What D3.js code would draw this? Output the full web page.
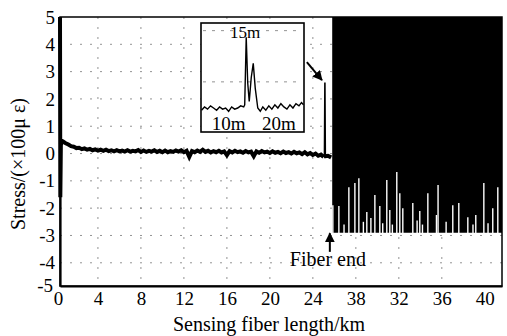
<!DOCTYPE html>
<html><head><meta charset="utf-8">
<script src="https://cdn.jsdelivr.net/npm/d3@7"></script>
<style>
body{margin:0;background:#fff;}
svg{display:block;}
svg text{font-family:"Liberation Serif","Times New Roman",serif;fill:#000;}
</style></head><body>
<svg id="c" width="507" height="336"></svg>
<script>
// ---- data ----
const xTickValues = [0,4,8,12,16,20,24,28,32,36,40];
const xTickLabels = ["0","4","8","12","16","20","24","38","32","36","40"];
const yTickValues = [5,4,3,2,1,0,-1,-2,-3,-4,-5];
const yTickLabels = ["5","4","3","2","1","0","-1","-2","-3","-4","-5"];

// start of trace (km, value)
const traceHeadKm  = [0.47, 0.50, 0.55, 0.62];
const traceHeadVal = [5.0, -1.6, 0.30, 0.48];
// main trace sampled every 0.25 km from 0.75 km
const traceStartKm = 0.75, traceStepKm = 0.25;
const traceVal = [0.44,0.38,0.33,0.27,0.25,0.20,0.21,0.16,0.19,0.14,0.17,0.12,0.15,0.11,0.14,0.10,0.14,0.09,0.12,0.08,
0.12,0.08,0.11,0.07,0.12,0.07,0.10,0.08,0.13,0.06,0.11,0.06,0.10,0.07,0.12,0.06,0.10,0.05,0.11,0.05,
0.09,0.06,0.11,0.07,0.12,0.05,0.10,-0.12,0.09,0.05,0.11,0.06,0.14,0.06,0.10,0.04,0.09,0.05,0.10,0.04,
0.08,-0.06,0.09,0.04,0.10,0.05,0.08,0.03,0.09,0.04,0.07,-0.10,0.08,0.03,0.09,0.04,0.07,0.02,0.08,0.03,
0.06,0.01,0.07,0.02,0.05,0.00,0.06,0.01,0.04,-0.02,0.05,-0.03,0.02,-0.05,0.00,-0.08,-0.04,-0.12];
// end of trace: reflection at the fiber end
const traceTailKm  = [25.0, 25.08, 25.12, 25.16, 25.4, 25.7];
const traceTailVal = [-0.12, -0.10, 2.60, -0.10, -0.08, -0.14];

// noise beyond fiber end
const noiseStartKm = 25.8, noiseEndKm = 41.6, noiseTop = 5, noiseFloor = -2.9;
const slitKm  = [25.86,26.42,27.35,27.91,28.28,29.02,29.40,29.77,30.23,30.88,31.16,31.81,32.09,32.37,33.30,33.95,34.70,35.50,35.65,37.02,37.58,38.42,39.16,39.91,40.74,41.21,26.9,28.7,30.5,31.4,33.7,34.2,36.4,38.9,40.3];
const slitTop = [-1.89,-1.92,-1.23,-1.08,-0.90,-2.14,-2.36,-1.52,-1.92,-0.97,-2.07,-0.68,-1.45,-2.00,-1.81,-2.10,-1.45,-2.25,-1.15,-1.89,-1.81,-2.33,-2.25,-1.08,-2.00,-1.23,-2.6,-2.5,-2.55,-2.6,-2.45,-2.6,-2.5,-2.6,-2.55];

// inset (distance in m, normalised amplitude)
const insetX = [4.6,5.2,5.8,6.4,7.0,7.6,8.2,8.8,9.4,10.0,10.6,11.2,11.8,12.4,13.0,13.2,13.5,13.8,14.1,14.5,14.9,15.3,15.8,16.3,16.8,17.4,18.0,18.6,19.2,19.8,20.4,21.0,21.6,22.2,22.8,23.4,24.0,24.5,24.9];
const insetY = [0.20,0.23,0.21,0.24,0.22,0.20,0.23,0.21,0.22,0.19,0.23,0.21,0.22,0.24,0.23,0.25,0.87,0.45,0.28,0.50,0.63,0.40,0.22,0.19,0.23,0.20,0.24,0.21,0.25,0.22,0.26,0.23,0.21,0.25,0.22,0.26,0.24,0.27,0.25];
const insetTickValues = [10,20];
const insetTickLabels = ["10m","20m"];

// ---- chart ----
const svg = d3.select("#c");
const L=60,R=502,T=17,B=286;
const x = d3.scaleLinear().domain([0.47,41.6]).range([L,R]);
const y = d3.scaleLinear().domain([-4.85,5]).range([B,T]);

// grid
const grid = svg.append("g").attr("stroke","#777").attr("stroke-width",0.8).attr("stroke-dasharray","2,8");
grid.selectAll("line.h").data(yTickValues.filter(v=>v<5&&v>-5)).join("line")
  .attr("x1",L).attr("x2",R).attr("y1",d=>y(d)).attr("y2",d=>y(d));
grid.selectAll("line.v").data(xTickValues.filter(v=>v>0&&v<40)).join("line")
  .attr("y1",T).attr("y2",B).attr("x1",d=>x(d)).attr("x2",d=>x(d));

// trace
const pts = [];
traceHeadKm.forEach((k,i)=>pts.push([k,traceHeadVal[i]]));
traceVal.forEach((v,i)=>pts.push([traceStartKm+i*traceStepKm,v]));
const line = d3.line().x(d=>x(d[0])).y(d=>y(d[1]));
svg.append("path").datum(pts).attr("d",line)
  .attr("fill","none").attr("stroke","#000").attr("stroke-width",4).attr("stroke-linejoin","miter");
svg.append("path").datum(traceTailKm.map((k,i)=>[k,traceTailVal[i]])).attr("d",line)
  .attr("fill","none").attr("stroke","#000").attr("stroke-width",1.6);
svg.append("path").datum(traceTailKm.filter((k,i)=>i!==2).map((k,i)=>[k,traceTailVal.filter((v,j)=>j!==2)[i]])).attr("d",line)
  .attr("fill","none").attr("stroke","#000").attr("stroke-width",4);

// noise block
svg.append("rect").attr("x",x(noiseStartKm)).attr("y",y(noiseTop))
  .attr("width",x(noiseEndKm)-x(noiseStartKm)).attr("height",y(noiseFloor)-y(noiseTop)).attr("fill","#000");
svg.append("g").selectAll("line").data(slitKm).join("line")
  .attr("x1",d=>x(d)).attr("x2",d=>x(d))
  .attr("y1",y(noiseFloor)+1).attr("y2",(d,i)=>y(slitTop[i]))
  .attr("stroke","#fff").attr("stroke-width",1.4);

// frame
svg.append("rect").attr("x",L).attr("y",T).attr("width",R-L).attr("height",B-T)
  .attr("fill","none").attr("stroke","#000").attr("stroke-width",1.5);

// axes
const xa = svg.append("g").attr("transform",`translate(0,${B})`)
  .call(d3.axisBottom(x).tickValues(xTickValues).tickFormat((d,i)=>xTickLabels[i]).tickSize(0).tickPadding(6));
xa.select(".domain").attr("stroke-width",2.2);
const ya = svg.append("g").attr("transform",`translate(${L},0)`)
  .call(d3.axisLeft(y).tickValues(yTickValues).tickFormat((d,i)=>yTickLabels[i]).tickSize(0).tickPadding(5));
ya.select(".domain").attr("stroke-width",2.2);
svg.selectAll(".tick text").style("font-family","'Liberation Serif',serif").style("font-size","19px");
ya.selectAll(".tick text").filter((d)=>d===-5).attr("dy","0.05em").attr("dx","-2");
xa.selectAll(".tick text").filter((d)=>d===0).attr("dx","3");

svg.append("text").attr("x",269).attr("y",331).attr("text-anchor","middle")
  .style("font-size","20px").text("Sensing fiber length/km");
svg.append("text").attr("transform","translate(25,164) rotate(-90)").attr("text-anchor","middle")
  .style("font-size","20px").text("Stress/(×100μ ε)");

// inset
const xi = d3.scaleLinear().domain([4.5,25]).range([201,304]);
const yi = d3.scaleLinear().domain([0,1]).range([132,23]);
svg.append("rect").attr("x",201).attr("y",23).attr("width",103).attr("height",109)
  .attr("fill","#fff").attr("stroke","#000").attr("stroke-width",1.6);
svg.append("g").attr("stroke","#777").attr("stroke-width",0.8).attr("stroke-dasharray","3,6")
  .selectAll("line").data([0.93,0.46]).join("line")
  .attr("x1",203).attr("x2",302).attr("y1",d=>yi(d)).attr("y2",d=>yi(d));
svg.append("path").datum(insetX.map((k,i)=>[k,insetY[i]]))
  .attr("d",d3.line().x(d=>xi(d[0])).y(d=>yi(d[1])))
  .attr("fill","none").attr("stroke","#000").attr("stroke-width",1.4);
svg.append("g").selectAll("text").data(insetTickValues).join("text")
  .attr("x",d=>xi(d)).attr("y",130).attr("text-anchor","middle").style("font-size","19px")
  .text((d,i)=>insetTickLabels[i]);
svg.append("text").attr("x",245).attr("y",38).attr("text-anchor","middle").style("font-size","17px").text("15m");

// arrows
const defs = svg.append("defs");
defs.append("marker").attr("id","ah").attr("viewBox","0 0 10 10").attr("refX",9).attr("refY",5)
  .attr("markerWidth",5).attr("markerHeight",5).attr("orient","auto")
  .append("path").attr("d","M0,0 L10,5 L0,10 Z").attr("fill","#000");
svg.append("line").attr("x1",x(23.44)).attr("y1",y(3.35)).attr("x2",x(24.84)).attr("y2",y(2.69))
  .attr("stroke","#000").attr("stroke-width",2).attr("marker-end","url(#ah)");
svg.append("line").attr("x1",x(25.58)).attr("y1",y(-3.6)).attr("x2",x(25.58)).attr("y2",y(-2.92))
  .attr("stroke","#000").attr("stroke-width",2).attr("marker-end","url(#ah)");
svg.append("text").attr("x",x(25.4)).attr("y",y(-4.12)).attr("text-anchor","middle")
  .style("font-size","20px").text("Fiber end");
</script></body></html>
